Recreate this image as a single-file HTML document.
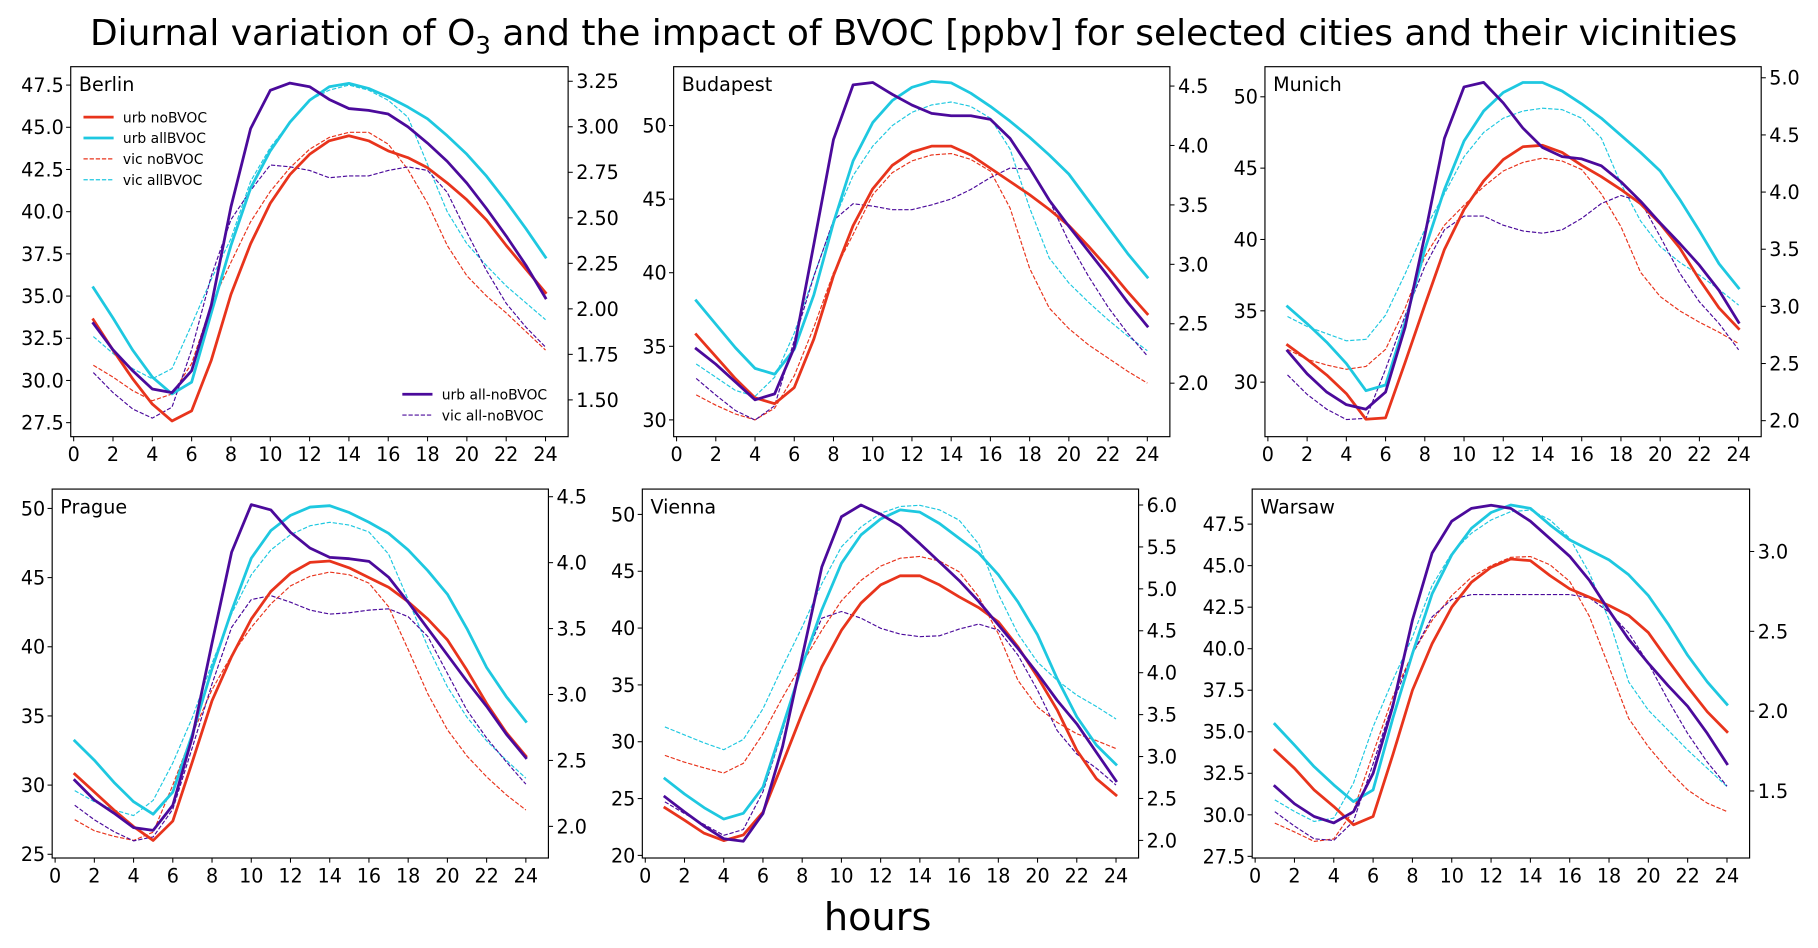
<!DOCTYPE html>
<html><head><meta charset="utf-8"><style>
html,body{margin:0;padding:0;background:#fff;}
svg{display:block;font-family:"DejaVu Sans","Liberation Sans",sans-serif;}
</style></head><body>
<svg id="fig" width="1818" height="948" viewBox="0 0 1568 817.6" xmlns="http://www.w3.org/2000/svg">
<rect width="1568" height="817.6" fill="#fff"/>
<text x="788" y="39" text-anchor="middle" font-size="31">Diurnal variation of O<tspan font-size="21" dy="7">3</tspan><tspan dy="-7"> and the impact of BVOC [ppbv] for selected cities and their vicinities</tspan></text>
<text x="757" y="802" text-anchor="middle" font-size="33">hours</text>
</svg>
<script>
const hours=[1,2,3,4,5,6,7,8,9,10,11,12,13,14,15,16,17,18,19,20,21,22,23,24];
const cities=["Berlin","Budapest","Munich","Prague","Vienna","Warsaw"];
const urbNo={
Berlin:[33.6,31.8,30.1,28.6,27.6,28.2,31.2,35.1,38.1,40.5,42.2,43.4,44.2,44.5,44.2,43.6,43.2,42.6,41.7,40.7,39.5,38.0,36.6,35.2],
Budapest:[35.8,34.3,32.8,31.5,31.1,32.2,35.5,39.8,43.2,45.7,47.3,48.2,48.6,48.6,48.0,47.1,46.2,45.3,44.3,43.2,41.8,40.3,38.7,37.2],
Munich:[32.6,31.6,30.5,29.2,27.4,27.5,31.4,35.4,39.3,42.1,44.1,45.6,46.5,46.6,46.1,45.2,44.4,43.5,42.5,41.1,39.4,37.2,35.2,33.75],
Prague:[30.8,29.5,28.2,27.0,26.0,27.4,31.7,36.1,39.3,42.0,44.0,45.3,46.1,46.2,45.7,45.0,44.3,43.25,42.0,40.5,38.3,35.9,33.8,32.1],
Vienna:[24.2,23.1,21.95,21.3,21.8,23.8,28.1,32.5,36.6,39.8,42.2,43.8,44.6,44.6,43.8,42.75,41.8,40.55,38.35,35.7,32.8,29.25,26.75,25.3],
Warsaw:[33.9,32.8,31.5,30.5,29.4,29.9,33.6,37.5,40.3,42.5,44.0,44.9,45.4,45.3,44.4,43.6,43.1,42.6,42.0,40.97,39.3,37.7,36.2,35.0]};
const urbAll={
Berlin:[35.5,33.7,31.8,30.2,29.2,29.9,34.0,38.0,41.4,43.6,45.3,46.6,47.4,47.6,47.3,46.8,46.2,45.5,44.5,43.4,42.1,40.6,39.0,37.3],
Budapest:[38.1,36.5,34.9,33.5,33.1,34.8,38.5,43.4,47.6,50.2,51.7,52.6,53.0,52.9,52.2,51.3,50.3,49.2,48.0,46.7,44.9,43.1,41.3,39.7],
Munich:[35.3,34.1,32.8,31.3,29.4,29.8,34.2,39.3,43.5,46.9,49.0,50.3,51.0,51.0,50.4,49.5,48.5,47.3,46.1,44.8,42.8,40.6,38.3,36.6],
Prague:[33.2,31.8,30.2,28.8,27.9,29.5,33.7,38.4,42.6,46.4,48.4,49.5,50.1,50.2,49.7,49.0,48.2,47.0,45.5,43.8,41.3,38.5,36.4,34.6],
Vienna:[26.75,25.4,24.2,23.2,23.7,26.0,31.3,36.7,41.6,45.7,48.2,49.6,50.4,50.2,49.2,47.9,46.6,44.7,42.3,39.4,35.55,32.2,29.7,28.0],
Warsaw:[35.46,34.2,32.9,31.8,30.8,31.5,35.8,39.7,43.3,45.65,47.25,48.2,48.65,48.45,47.45,46.55,45.95,45.35,44.45,43.2,41.5,39.6,38.0,36.65]};
const vicNo={
Berlin:[30.9,30.2,29.4,28.8,29.2,31.0,34.5,37.0,39.4,41.2,42.6,43.7,44.4,44.7,44.7,44.0,42.5,40.5,38.0,36.2,35.0,34.0,32.9,31.8],
Budapest:[31.7,31.0,30.4,30.0,30.8,33.0,36.3,40.0,42.6,45.3,46.8,47.6,48.0,48.1,47.7,46.9,44.4,40.3,37.6,36.2,35.1,34.2,33.3,32.5],
Munich:[32.3,31.6,31.2,30.9,31.1,32.3,35.2,38.8,41.0,42.4,43.7,44.8,45.4,45.7,45.5,44.9,43.2,40.9,37.7,36.0,35.0,34.2,33.5,32.7],
Prague:[27.5,26.7,26.3,26.0,26.6,30.0,33.7,36.9,39.4,41.4,43.1,44.4,45.1,45.4,45.2,44.6,42.9,39.8,36.6,34.0,32.1,30.6,29.3,28.2],
Vienna:[28.8,28.2,27.7,27.25,28.1,30.7,33.9,36.9,39.8,42.4,44.2,45.45,46.15,46.3,45.9,44.95,42.75,39.5,35.4,33.05,31.7,30.7,30.1,29.4],
Warsaw:[29.5,28.97,28.4,28.55,30.25,33.7,37.1,39.7,41.7,43.2,44.3,45.0,45.5,45.55,45.05,44.05,41.95,38.9,35.8,34.1,32.7,31.5,30.7,30.2]};
const vicAll={
Berlin:[32.6,31.6,30.7,30.1,30.7,33.3,36.0,38.4,41.8,43.8,45.3,46.6,47.2,47.5,47.2,46.6,45.6,42.8,40.0,38.1,36.8,35.6,34.6,33.6],
Budapest:[33.8,32.9,32.0,31.6,32.9,35.9,39.8,43.5,46.6,48.6,50.0,50.9,51.4,51.6,51.3,50.5,48.4,44.4,41.0,39.3,38.0,36.8,35.7,34.7],
Munich:[34.6,33.9,33.4,32.9,33.0,34.7,37.6,40.7,43.2,45.8,47.5,48.5,49.0,49.2,49.1,48.5,47.1,43.9,41.3,39.5,38.4,37.5,36.5,35.4],
Prague:[29.6,28.8,28.2,27.8,28.9,31.6,34.9,38.8,42.4,45.2,47.0,48.1,48.75,49.0,48.8,48.3,46.7,43.4,40.0,37.1,34.9,33.2,31.8,30.5],
Vienna:[31.3,30.6,29.9,29.3,30.2,32.9,36.6,40.1,43.9,47.15,48.9,50.1,50.7,50.8,50.4,49.5,47.4,43.0,39.5,37.0,35.4,34.1,33.1,32.0],
Warsaw:[30.9,30.2,29.6,29.8,31.9,35.3,38.1,40.7,43.8,45.75,46.95,47.75,48.25,48.35,47.75,46.65,44.55,41.75,38.0,36.3,35.1,33.9,32.8,31.7]};
const urbDiff={
Berlin:[1.92,1.775,1.66,1.56,1.54,1.66,2.02,2.56,2.99,3.20,3.24,3.22,3.15,3.10,3.09,3.07,3.00,2.91,2.81,2.69,2.55,2.40,2.24,2.06],
Budapest:[2.29,2.16,2.01,1.86,1.91,2.30,3.17,4.05,4.51,4.53,4.43,4.34,4.27,4.25,4.25,4.22,4.06,3.81,3.54,3.32,3.11,2.90,2.68,2.48],
Munich:[2.61,2.41,2.25,2.14,2.10,2.25,2.82,3.62,4.47,4.92,4.96,4.78,4.56,4.39,4.31,4.29,4.23,4.09,3.92,3.73,3.55,3.36,3.14,2.86],
Prague:[2.35,2.20,2.10,1.99,1.97,2.16,2.68,3.39,4.08,4.44,4.40,4.23,4.11,4.04,4.03,4.01,3.89,3.70,3.50,3.30,3.10,2.91,2.70,2.52],
Vienna:[2.52,2.34,2.17,2.02,1.99,2.32,3.12,4.19,5.26,5.86,6.0,5.89,5.75,5.54,5.32,5.10,4.85,4.57,4.29,3.99,3.67,3.39,3.05,2.71],
Warsaw:[1.53,1.42,1.34,1.30,1.37,1.61,2.03,2.57,2.99,3.19,3.27,3.29,3.27,3.19,3.08,2.97,2.82,2.63,2.45,2.30,2.16,2.03,1.86,1.67]};
const vicDiff={
Berlin:[1.65,1.54,1.45,1.40,1.46,1.775,2.18,2.49,2.65,2.79,2.78,2.76,2.72,2.73,2.73,2.76,2.78,2.76,2.64,2.42,2.21,2.03,1.90,1.79],
Budapest:[2.04,1.90,1.77,1.69,1.81,2.36,2.90,3.37,3.51,3.49,3.46,3.46,3.50,3.55,3.63,3.73,3.81,3.80,3.54,3.19,2.90,2.64,2.42,2.23],
Munich:[2.40,2.23,2.10,2.01,2.02,2.45,2.92,3.35,3.67,3.79,3.79,3.71,3.66,3.64,3.67,3.77,3.90,3.97,3.92,3.61,3.29,3.04,2.85,2.62],
Prague:[2.16,2.05,1.96,1.89,1.92,2.13,2.60,3.08,3.51,3.72,3.75,3.70,3.64,3.61,3.62,3.64,3.65,3.59,3.44,3.16,2.88,2.67,2.49,2.32],
Vienna:[2.46,2.32,2.19,2.06,2.13,2.58,3.31,4.11,4.65,4.73,4.65,4.53,4.46,4.43,4.44,4.52,4.58,4.51,4.21,3.79,3.31,3.03,2.86,2.66],
Warsaw:[1.37,1.28,1.20,1.19,1.31,1.67,2.05,2.36,2.59,2.70,2.73,2.73,2.73,2.73,2.73,2.73,2.71,2.62,2.49,2.30,2.07,1.86,1.68,1.53]};
const xTicks=[0,2,4,6,8,10,12,14,16,18,20,22,24];
const leftTicks={Berlin:[27.5,30,32.5,35,37.5,40,42.5,45,47.5],Budapest:[30,35,40,45,50],Munich:[30,35,40,45,50],Prague:[25,30,35,40,45,50],Vienna:[20,25,30,35,40,45,50],Warsaw:[27.5,30,32.5,35,37.5,40,42.5,45,47.5]};
const rightTicks={Berlin:[1.5,1.75,2,2.25,2.5,2.75,3,3.25],Budapest:[2,2.5,3,3.5,4,4.5],Munich:[2,2.5,3,3.5,4,4.5,5],Prague:[2,2.5,3,3.5,4,4.5],Vienna:[2,2.5,3,3.5,4,4.5,5,5.5,6],Warsaw:[1.5,2,2.5,3]};
const leftDec={Berlin:1,Budapest:0,Munich:0,Prague:0,Vienna:0,Warsaw:1};
const rightDec={Berlin:2,Budapest:1,Munich:1,Prague:1,Vienna:1,Warsaw:1};
const leftLim={Berlin:[26.67,48.59],Budapest:[28.86,54.0],Munich:[26.18,52.11],Prague:[24.73,51.4],Vienna:[19.77,52.23],Warsaw:[27.4,49.61]};
const rightLim={Berlin:[1.298,3.33],Budapest:[1.55,4.663],Munich:[1.86,5.097],Prague:[1.76,4.558],Vienna:[1.79,6.19],Warsaw:[1.08,3.391]};
const boxes={Berlin:[61,57.5,490,376.6],Budapest:[581,57.5,1009,376.6],Munich:[1091,57.5,1519,376.6],Prague:[45,421.8,473,740],Vienna:[554,421.8,982,740],Warsaw:[1080,421.8,1509,740]};
const RED="#e8341c",CYAN="#1ec8e0",PURPLE="#4b0a9b";
const NS="http://www.w3.org/2000/svg";
const svg=document.getElementById('fig');
function mk(tag,attrs,parent){const e=document.createElementNS(NS,tag);for(const k in attrs)e.setAttribute(k,attrs[k]);(parent||svg).appendChild(e);return e;}
cities.forEach(c=>{
  const [x0,y0,x1,y1]=boxes[c];
  const g=mk('g',{});
  
  
  const xs=h=>x0+(h+0.15)/25.3*(x1-x0);
  const yl=v=>y1-(v-leftLim[c][0])/(leftLim[c][1]-leftLim[c][0])*(y1-y0);
  const yr=v=>y1-(v-rightLim[c][0])/(rightLim[c][1]-rightLim[c][0])*(y1-y0);
  const line=(vals,ys,color,w,dash,name)=>{
    const p=mk('polyline',{points:vals.map((v,i)=>xs(hours[i]).toFixed(2)+','+ys(v).toFixed(2)).join(' '),fill:'none',stroke:color,'stroke-width':w,'stroke-linejoin':'round','stroke-linecap':dash?'butt':'square'},g);
    if(dash)p.setAttribute('stroke-dasharray','3.7 1.6');
    
    
  };
  line(vicNo[c],yl,RED,1,true,'vic-nobvoc-line');
  line(vicAll[c],yl,CYAN,1,true,'vic-allbvoc-line');
  line(vicDiff[c],yr,PURPLE,1,true,'vic-all-nobvoc-line');
  line(urbNo[c],yl,RED,2.4,false,'urb-nobvoc-line');
  line(urbAll[c],yl,CYAN,2.4,false,'urb-allbvoc-line');
  line(urbDiff[c],yr,PURPLE,2.4,false,'urb-all-nobvoc-line');
  const fr=mk('rect',{x:x0,y:y0,width:x1-x0,height:y1-y0,fill:'none',stroke:'#000','stroke-width':1},g);
  
  
  xTicks.forEach(t=>{
    const x=xs(t);
    mk('line',{x1:x,x2:x,y1:y1,y2:y1+4,stroke:'#000','stroke-width':0.9},g);
    const tx=mk('text',{x:x,y:y1+21,'text-anchor':'middle','font-size':16.5},g);
    tx.textContent=t;
    
    
  });
  leftTicks[c].forEach(t=>{
    const y=yl(t);
    mk('line',{x1:x0-4,x2:x0,y1:y,y2:y,stroke:'#000','stroke-width':0.9},g);
    const tx=mk('text',{x:x0-6,y:y+6,'text-anchor':'end','font-size':16.5},g);
    tx.textContent=t.toFixed(leftDec[c]);
    
    
  });
  rightTicks[c].forEach(t=>{
    const y=yr(t);
    mk('line',{x1:x1,x2:x1+4,y1:y,y2:y,stroke:'#000','stroke-width':0.9},g);
    const tx=mk('text',{x:x1+7,y:y+6,'text-anchor':'start','font-size':16.5},g);
    tx.textContent=t.toFixed(rightDec[c]);
    
    
  });
  const lb=mk('text',{x:x0+7,y:y0+21,'font-size':16.5},g);
  lb.textContent=c;
  
  
});
const legItems=[["urb noBVOC",RED,2.4,false,72,101],["urb allBVOC",CYAN,2.4,false,72,119],["vic noBVOC",RED,1,true,72,137],["vic allBVOC",CYAN,1,true,72,155],["urb all-noBVOC",PURPLE,2.4,false,347,340],["vic all-noBVOC",PURPLE,1,true,347,358]];
legItems.forEach(it=>{
  const g=mk('g',{});
  
  
  const l=mk('line',{x1:it[4],x2:it[4]+26,y1:it[5],y2:it[5],stroke:it[1],'stroke-width':it[2]},g);
  if(it[3])l.setAttribute('stroke-dasharray','3.7 1.6');
  const t=mk('text',{x:it[4]+34,y:it[5]+4.5,'font-size':12},g);
  t.textContent=it[0];
});
</script>
</body></html>
